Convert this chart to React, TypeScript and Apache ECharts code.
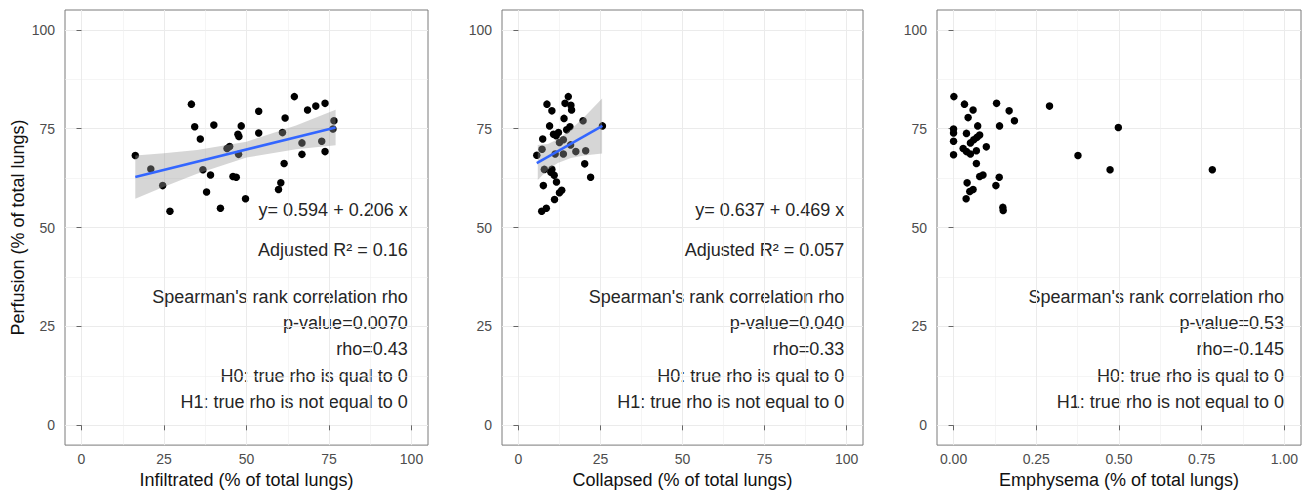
import React, { useEffect, useRef } from "react";
import * as echarts from "echarts";

// ---- tick definitions ----
const pctTicks = [0, 25, 50, 75, 100];
const pctMinor = [12.5, 37.5, 62.5, 87.5];
const fracTicks = [0, 0.25, 0.5, 0.75, 1];
const fracMinor = [0.125, 0.375, 0.625, 0.875];

// ---- panel 1: Infiltrated ----
const infiltratedX = [33.3, 64.5, 68.5, 71.0, 73.8, 53.7, 61.7, 76.5, 76.2, 34.3, 40.1, 48.4, 47.4, 47.7, 53.7, 60.9, 36.0, 66.8, 72.8, 44.1, 44.9, 47.6, 66.8, 73.8, 21.0, 36.8, 39.1, 45.9, 46.9, 61.4, 24.6, 37.9, 60.4, 59.7, 49.7, 26.8, 42.1, 16.3];
const infiltratedY = [81.2, 83.1, 79.7, 80.7, 81.4, 79.4, 77.7, 77.0, 74.9, 75.5, 75.9, 75.7, 73.6, 73.0, 73.9, 74.0, 72.4, 71.4, 71.8, 70.0, 70.5, 68.5, 68.5, 69.2, 64.8, 64.6, 63.3, 62.9, 62.7, 66.2, 60.6, 59.0, 61.3, 59.6, 57.3, 54.1, 54.9, 68.2];
const infiltratedFitX = [16.3, 77.0];
const infiltratedFitY = [62.8, 75.3];
const infiltratedBandX = [16.3, 25, 35, 50, 65, 77];
const infiltratedBandLo = [57.3, 60.3, 63.6, 67.7, 69.8, 70.8];
const infiltratedBandHi = [68.2, 68.8, 69.6, 71.7, 75.8, 79.8];

// ---- panel 2: Collapsed ----
const collapsedX = [15.2, 8.7, 14.2, 16.0, 10.2, 16.2, 13.9, 19.7, 9.5, 25.6, 15.7, 14.7, 10.7, 12.2, 11.5, 7.4, 13.7, 12.5, 15.9, 7.2, 11.2, 13.7, 17.5, 20.5, 5.6, 20.2, 7.9, 10.2, 9.9, 10.9, 22.0, 11.6, 7.6, 13.2, 12.5, 11.0, 8.5, 7.1];
const collapsedY = [83.1, 81.2, 81.4, 80.9, 79.5, 79.7, 77.6, 77.0, 75.7, 75.7, 75.5, 74.7, 73.6, 74.0, 73.2, 72.4, 72.2, 71.5, 70.9, 69.8, 68.6, 68.6, 69.2, 69.4, 68.3, 66.1, 64.7, 64.7, 64.0, 63.2, 62.7, 61.5, 60.6, 59.4, 58.8, 57.1, 54.9, 54.1];
const collapsedFitX = [5.6, 25.6];
const collapsedFitY = [66.3, 75.7];
const collapsedBandX = [5.9, 9, 12, 16, 20, 25.5];
const collapsedBandLo = [62.0, 64.7, 66.3, 67.6, 68.2, 68.7];
const collapsedBandHi = [70.9, 71.1, 72.3, 74.8, 77.9, 82.6];

// ---- panel 3: Emphysema ----
const emphysemaX = [0.001, 0.033, 0.059, 0.13, 0.168, 0.184, 0.29, 0.044, 0.073, 0.139, 0.498, 0.0, 0.0, 0.039, 0.079, 0.071, 0.061, 0.051, 0.0, 0.099, 0.029, 0.039, 0.051, 0.069, 0.0, 0.376, 0.069, 0.473, 0.782, 0.079, 0.089, 0.138, 0.041, 0.128, 0.049, 0.059, 0.038, 0.149, 0.15];
const emphysemaY = [83.1, 81.2, 79.7, 81.4, 79.5, 77.0, 80.7, 77.8, 75.7, 75.7, 75.3, 74.9, 73.9, 73.8, 73.4, 72.8, 72.2, 71.4, 71.8, 70.4, 70.0, 69.2, 68.6, 69.4, 68.4, 68.2, 66.2, 64.6, 64.6, 62.9, 63.3, 62.7, 61.3, 60.6, 59.1, 59.6, 57.3, 55.1, 54.3];

// ---- annotation texts ----
const infiltratedNotes = ["y= 0.594 + 0.206 x", "Adjusted R\u00B2 = 0.16", "Spearman's rank correlation rho", "p-value=0.0070", "rho=0.43", "H0: true rho is qual to 0", "H1: true rho is not equal to 0"];
const collapsedNotes = ["y= 0.637 + 0.469 x", "Adjusted R\u00B2 = 0.057", "Spearman's rank correlation rho", "p-value=0.040", "rho=0.33", "H0: true rho is qual to 0", "H1: true rho is not equal to 0"];
const emphysemaNotes = ["Spearman's rank correlation rho", "p-value=0.53", "rho=-0.145", "H0: true rho is qual to 0", "H1: true rho is not equal to 0"];

const xTitles = ["Infiltrated (% of total lungs)", "Collapsed (% of total lungs)", "Emphysema (% of total lungs)"];
const yTitle = "Perfusion (% of total lungs)";

const FONT = '"Liberation Sans", Arial, Helvetica, sans-serif';

export default function App() {
  const ref = useRef<HTMLDivElement>(null);

  useEffect(() => {
    document.body.style.margin = "0";
    if (!ref.current) return;
    const chart = echarts.init(ref.current, undefined, { renderer: "svg" });

    const gridDefs = [
      { left: 65, top: 10, width: 363, height: 438 },
      { left: 502, top: 10, width: 361, height: 438 },
      { left: 937, top: 10, width: 364, height: 438 },
    ];

    const grid = gridDefs.map((g) => ({
      ...g,
      show: true,
      borderColor: "#7a7a7a",
      borderWidth: 1,
      backgroundColor: "transparent",
    }));

    const xSpecs = [
      { min: -5, max: 105, major: pctTicks, minor: pctMinor, fmt: (v: number) => String(v) },
      { min: -5, max: 105, major: pctTicks, minor: pctMinor, fmt: (v: number) => String(v) },
      { min: -0.05, max: 1.05, major: fracTicks, minor: fracMinor, fmt: (v: number) => v.toFixed(2) },
    ];

    const xAxis: any[] = [];
    const yAxis: any[] = [];
    xSpecs.forEach((s, i) => {
      xAxis.push({
        type: "value",
        gridIndex: i,
        position: "bottom",
        min: s.min,
        max: s.max,
        name: xTitles[i],
        nameLocation: "middle",
        nameGap: 23,
        nameTextStyle: { fontSize: 18, color: "#111", fontFamily: FONT },
        axisLine: { show: false },
        axisTick: { show: true, length: 5, customValues: s.major, lineStyle: { color: "#666" } },
        axisLabel: {
          show: true,
          customValues: s.major,
          margin: 7,
          fontSize: 14,
          color: "#4D4D4D",
          fontFamily: FONT,
          formatter: (v: number) => s.fmt(v),
        },
        splitLine: { show: true, lineStyle: { color: "#EBEBEB", width: 1 } },
      });
      xAxis.push({
        type: "value",
        gridIndex: i,
        position: "top",
        min: s.min,
        max: s.max,
        axisLine: { show: false },
        axisTick: { show: false, customValues: s.minor },
        axisLabel: { show: false, customValues: s.minor },
        splitLine: { show: true, lineStyle: { color: "#EFEFEF", width: 0.6 } },
      });
      yAxis.push({
        type: "value",
        gridIndex: i,
        position: "left",
        min: -5,
        max: 105,
        name: i === 0 ? yTitle : "",
        nameLocation: "middle",
        nameGap: 38,
        nameTextStyle: { fontSize: 18, color: "#111", fontFamily: FONT },
        axisLine: { show: false },
        axisTick: { show: true, length: 5, customValues: pctTicks, lineStyle: { color: "#666" } },
        axisLabel: {
          show: true,
          customValues: pctTicks,
          margin: 10,
          fontSize: 14,
          color: "#4D4D4D",
          fontFamily: FONT,
        },
        splitLine: { show: true, lineStyle: { color: "#EBEBEB", width: 1 } },
      });
      yAxis.push({
        type: "value",
        gridIndex: i,
        position: "right",
        min: -5,
        max: 105,
        axisLine: { show: false },
        axisTick: { show: false, customValues: pctMinor },
        axisLabel: { show: false, customValues: pctMinor },
        splitLine: { show: true, lineStyle: { color: "#EFEFEF", width: 0.6 } },
      });
    });

    const zip = (xs: number[], ys: number[]) => xs.map((x, k) => [x, ys[k]]);

    const scatter = (xs: number[], ys: number[], i: number) => ({
      type: "scatter",
      xAxisIndex: 2 * i,
      yAxisIndex: 2 * i,
      data: zip(xs, ys),
      symbolSize: 7.5,
      itemStyle: { color: "#000", opacity: 1 },
      z: 2,
      silent: true,
    });

    const band = (xs: number[], lo: number[], hi: number[], i: number) => ({
      type: "custom",
      xAxisIndex: 2 * i,
      yAxisIndex: 2 * i,
      data: zip(xs, lo),
      z: 3,
      silent: true,
      renderItem: (params: any, api: any) => {
        if (params.dataIndex !== 0) return null;
        const pts: number[][] = [];
        xs.forEach((x, k) => pts.push(api.coord([x, hi[k]])));
        for (let k = xs.length - 1; k >= 0; k--) pts.push(api.coord([xs[k], lo[k]]));
        return {
          type: "polygon",
          shape: { points: pts },
          style: { fill: "rgba(153,153,153,0.4)", stroke: "none" },
        };
      },
    });

    const fit = (xs: number[], ys: number[], i: number) => ({
      type: "line",
      xAxisIndex: 2 * i,
      yAxisIndex: 2 * i,
      data: zip(xs, ys),
      symbol: "none",
      lineStyle: { color: "#3366FF", width: 2.5 },
      z: 4,
      silent: true,
    });

    const series: any[] = [
      scatter(infiltratedX, infiltratedY, 0),
      band(infiltratedBandX, infiltratedBandLo, infiltratedBandHi, 0),
      fit(infiltratedFitX, infiltratedFitY, 0),
      scatter(collapsedX, collapsedY, 1),
      band(collapsedBandX, collapsedBandLo, collapsedBandHi, 1),
      fit(collapsedFitX, collapsedFitY, 1),
      scatter(emphysemaX, emphysemaY, 2),
    ];

    const fullYs = [210, 250, 296.7, 322.7, 349.3, 376, 401.7];
    const shortYs = fullYs.slice(2);
    const textRight = [407.7, 844.3, 1284];
    const notes = [infiltratedNotes, collapsedNotes, emphysemaNotes];
    const graphic: any[] = [];
    notes.forEach((lines, i) => {
      const ys = lines.length === 7 ? fullYs : shortYs;
      lines.forEach((t, k) => {
        graphic.push({
          type: "text",
          x: textRight[i],
          y: ys[k],
          silent: true,
          style: {
            text: t,
            fontSize: 18,
            fontFamily: FONT,
            fill: "#262626",
            align: "right",
            verticalAlign: "middle",
          },
        });
      });
    });

    chart.setOption({
      animation: false,
      backgroundColor: "#fff",
      grid,
      xAxis,
      yAxis,
      series,
      graphic,
    });

    return () => chart.dispose();
  }, []);

  return <div ref={ref} style={{ width: 1307, height: 494 }} />;
}
